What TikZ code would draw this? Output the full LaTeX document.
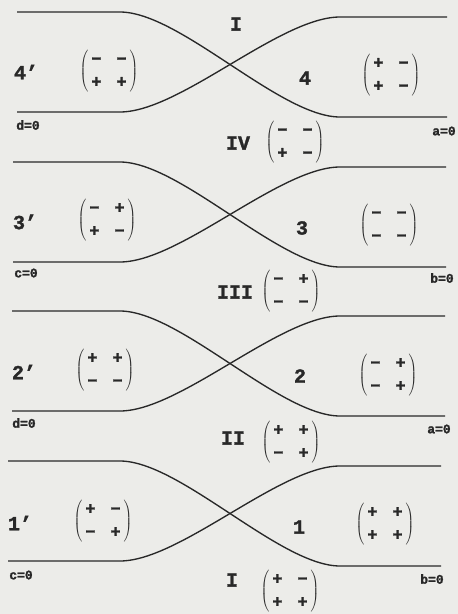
\documentclass[tikz,border=0pt]{standalone}
\usepackage{fontspec}
\newfontfamily\typefont{Liberation Mono}[UprightFont=* Bold, FakeBold=1.6]
\usetikzlibrary{positioning}

\definecolor{paper}{RGB}{236,236,233}
\definecolor{ink}{RGB}{40,40,40}

% 2x2 sign matrix
\newcommand{\sgnmat}[4]{$\left(\vcenter{\hbox{\fontsize{17}{20}\selectfont\typefont
  \renewcommand{\arraystretch}{1.15}%
  \begin{tabular}{@{\hspace{3pt}}c@{\hspace{15pt}}c@{\hspace{3pt}}}#1&#2\\#3&#4\end{tabular}}}\right)$}

\begin{document}
\begin{tikzpicture}[x=1pt, y=-1pt,
  curve/.style={draw=ink, line width=1.35pt},
  lab/.style={font=\fontsize{20}{22}\selectfont\typefont, text=ink, inner sep=0pt},
  eqn/.style={font=\fontsize{13}{15}\selectfont\typefont, text=ink, inner sep=0pt},
  mat/.style={text=ink, inner sep=0pt}
]
\fill[paper] (0,0) rectangle (458,614);
\useasboundingbox (0,0) rectangle (458,614);

% the four crossing strips
\foreach \y/\xl/\xr in {12/17/447, 162/13/446, 311/12/445, 461/8/441} {
  \draw[curve] (\xl,\y) -- (120,\y) .. controls (180,\y) and (280,\y+105) .. (340,\y+105) -- (\xr,\y+105);
  \draw[curve] (\xl,\y+100) -- (120,\y+100) .. controls (180,\y+100) and (280,\y+5) .. (340,\y+5) -- (\xr,\y+5);
}

% strip 4 / 4'
\node[lab] (tI) at (236,24) {I};
\node[lab] (r4p) at (26,72) {4’};
\node[mat] (m4p) at (109,71) {\sgnmat{−}{−}{+}{+}};
\node[eqn] (d1) at (28,125) {d=0};
\node[lab] (r4) at (305,78) {4};
\node[mat] (m4) at (391,75) {\sgnmat{+}{−}{+}{−}};
\node[eqn] (a1) at (444,131) {a=0};
\node[lab] (rIV) at (238,143) {IV};
\node[mat] (mIV) at (295,142) {\sgnmat{−}{−}{+}{−}};

% strip 3 / 3'
\node[lab] (r3p) at (25,222) {3’};
\node[mat] (m3p) at (107,220) {\sgnmat{−}{+}{+}{−}};
\node[eqn] (c1) at (26,273) {c=0};
\node[lab] (r3) at (302,228) {3};
\node[mat] (m3) at (389,225) {\sgnmat{−}{−}{−}{−}};
\node[eqn] (b1) at (442,278) {b=0};
\node[lab] (rIII) at (235,292) {III};
\node[mat] (mIII) at (291,291) {\sgnmat{−}{+}{−}{−}};

% strip 2 / 2'
\node[lab] (r2p) at (24,372) {2’};
\node[mat] (m2p) at (105,370) {\sgnmat{+}{+}{−}{−}};
\node[eqn] (d2) at (24,423) {d=0};
\node[lab] (r2) at (300,376) {2};
\node[mat] (m2) at (388,375) {\sgnmat{−}{+}{−}{+}};
\node[eqn] (a2) at (439,429) {a=0};
\node[lab] (rII) at (233,438) {II};
\node[mat] (mII) at (291,442) {\sgnmat{+}{+}{−}{+}};

% strip 1 / 1'
\node[lab] (r1p) at (20,523) {1’};
\node[mat] (m1p) at (103,521) {\sgnmat{+}{−}{−}{+}};
\node[eqn] (c2) at (21,575) {c=0};
\node[lab] (r1) at (299,527) {1};
\node[mat] (m1) at (385,524) {\sgnmat{+}{+}{+}{+}};
\node[eqn] (b2) at (432,579) {b=0};
\node[lab] (bI) at (232,580) {I};
\node[mat] (mI) at (290,591) {\sgnmat{+}{−}{+}{+}};

\end{tikzpicture}
\end{document}
